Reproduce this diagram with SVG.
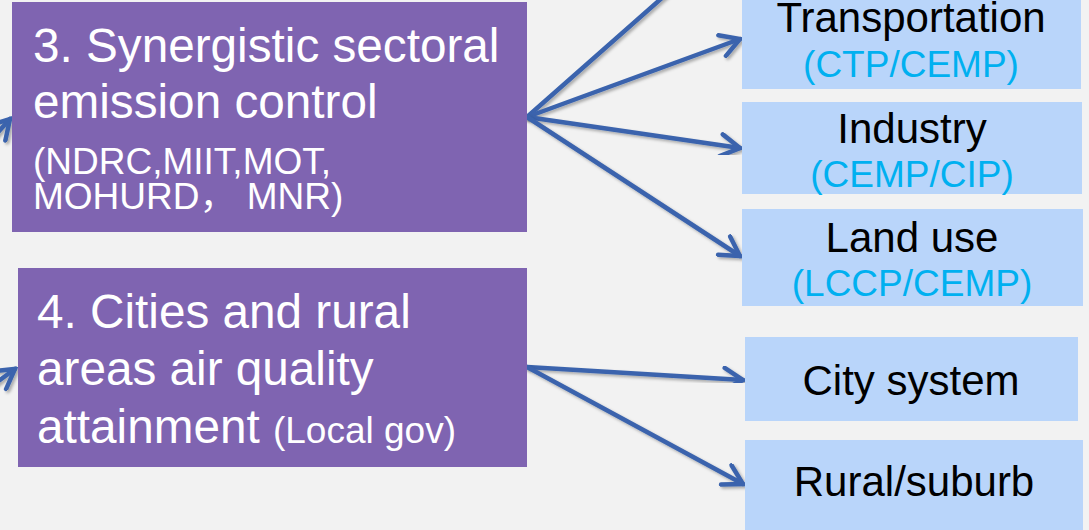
<svg xmlns="http://www.w3.org/2000/svg" width="1089" height="530" viewBox="0 0 1089 530">
  <defs>
    <style>
      .bg { fill: #F2F2F2; }
      .main { fill: #7F64B1; }
      .sub { fill: #B9D5FA; }
      .wt { fill: #FFFFFF; font-family: "Liberation Sans", Arial, "Noto Sans CJK SC", sans-serif; }
      .bk { fill: #000000; font-family: "Liberation Sans", Arial, sans-serif; font-size: 42px; text-anchor: middle; }
      .cy { fill: #00B0F0; font-family: "Liberation Sans", Arial, sans-serif; font-size: 37px; text-anchor: middle; }
      .big { font-size: 47.7px; }
      .small { font-size: 37px; }
      .conn { stroke: #3B64AD; stroke-width: 4.5; fill: none; stroke-linecap: round; marker-end: url(#open); filter: url(#shadow); }
    </style>
    <marker id="open" viewBox="0 0 26 26" refX="23" refY="13" markerWidth="26" markerHeight="26" markerUnits="userSpaceOnUse" orient="auto">
      <path d="M4,2 L23,13 L4,24" fill="none" stroke="#3B64AD" stroke-width="4.5" stroke-linecap="round" stroke-linejoin="miter"/>
    </marker>
    <filter id="shadow" x="-20%" y="-20%" width="140%" height="140%">
      <feDropShadow dx="2" dy="2" stdDeviation="1.5" flood-color="#000000" flood-opacity="0.3"/>
    </filter>
  </defs>

  <rect class="bg" x="0" y="0" width="1089" height="530"/>

  <!-- connectors -->
  <g id="connectors">
    <path class="conn" d="M-20,152 L10,119"/>
    <path class="conn" d="M-25,398 L15,369"/>
    <path class="conn" d="M527,117 L705,-40" style="marker-end:none"/>
    <path class="conn" d="M527,117 L740,39"/>
    <path class="conn" d="M527,117 L740,148"/>
    <path class="conn" d="M527,117 L740,256"/>
    <path class="conn" d="M527,367 L743,380"/>
    <path class="conn" d="M527,367 L743,484"/>
  </g>

  <!-- step 3 -->
  <g id="node-sectoral">
    <rect class="main" x="12" y="2" width="515" height="230"/>
    <text class="wt big" x="33" y="62">3. Synergistic sectoral</text>
    <text class="wt big" x="33" y="118">emission control</text>
    <text class="wt small" x="33" y="174">(NDRC,MIIT,MOT,</text>
    <text class="wt small" x="33" y="209">MOHURD， MNR)</text>
  </g>

  <!-- step 4 -->
  <g id="node-cities">
    <rect class="main" x="18" y="268" width="509" height="199"/>
    <text class="wt big" x="37" y="328">4. Cities and rural</text>
    <text class="wt big" x="37" y="385">areas air quality</text>
    <text class="wt big" x="37" y="443">attainment <tspan class="small">(Local gov)</tspan></text>
  </g>

  <g id="node-transportation">
    <rect class="sub" x="742" y="-8" width="339" height="97"/>
    <text class="bk" x="911" y="32">Transportation</text>
    <text class="cy" x="911" y="77">(CTP/CEMP)</text>
  </g>

  <g id="node-industry">
    <rect class="sub" x="742" y="102" width="340" height="92"/>
    <text class="bk" x="912" y="143">Industry</text>
    <text class="cy" x="912" y="187">(CEMP/CIP)</text>
  </g>

  <g id="node-landuse">
    <rect class="sub" x="742" y="209" width="341" height="97"/>
    <text class="bk" x="912" y="252">Land use</text>
    <text class="cy" x="912" y="296">(LCCP/CEMP)</text>
  </g>

  <g id="node-city">
    <rect class="sub" x="745" y="337" width="333" height="84"/>
    <text class="bk" x="911" y="395">City system</text>
  </g>

  <g id="node-rural">
    <rect class="sub" x="745" y="440" width="338" height="100"/>
    <text class="bk" x="914" y="496">Rural/suburb</text>
  </g>
</svg>
